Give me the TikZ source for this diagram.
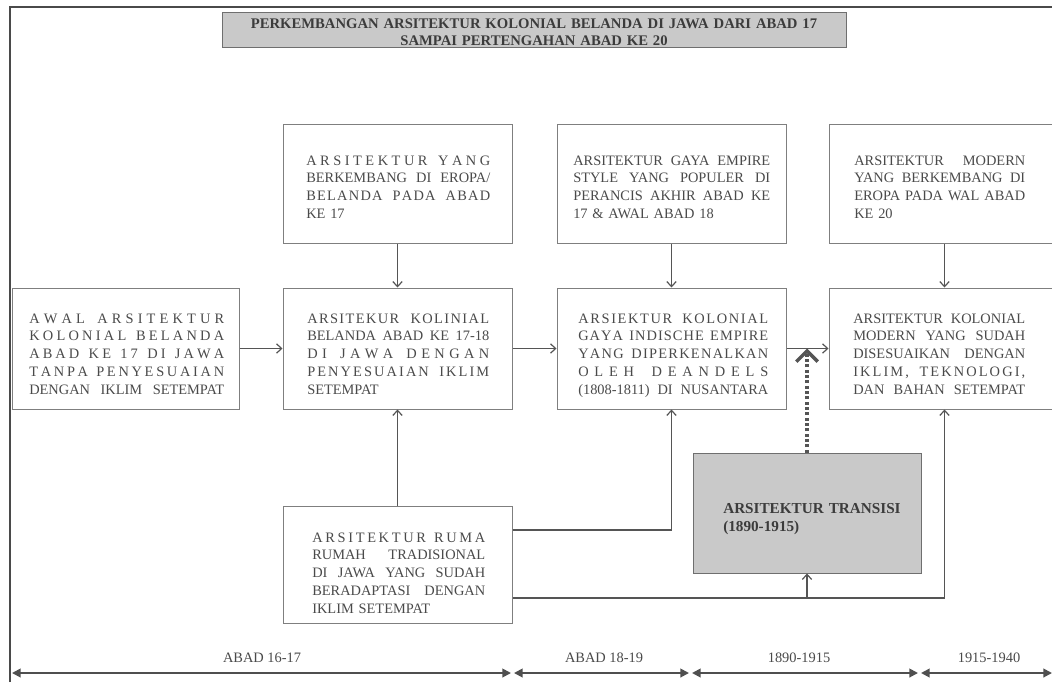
\documentclass[tikz,border=0pt]{standalone}
\usepackage{fontspec}
\setmainfont{Liberation Serif}
\usetikzlibrary{arrows.meta,fit,calc}
\definecolor{boxc}{HTML}{7F7F7F}
\definecolor{grayc}{HTML}{C9C9C9}
\definecolor{gboxc}{HTML}{6F6F6F}
\definecolor{txtc}{HTML}{4A4A4A}
\definecolor{titlec}{HTML}{3C3C3C}
\definecolor{linec}{HTML}{555555}
\definecolor{tlc}{HTML}{4F4F4F}
\definecolor{framec}{HTML}{4A4A4A}
\ExplSyntaxOn
\seq_new:N \l__rk_words_seq
\tl_new:N \l__rk_gap_tl
\NewDocumentCommand \spr { O{3} m }
  {
    \tl_set:Nn \l__rk_gap_tl {#1}
    \seq_set_split:Nnn \l__rk_words_seq { ~ } {#2}
    \noindent
    \hbox_to_wd:nn { \hsize }
      {
        \seq_map_indexed_inline:Nn \l__rk_words_seq
          {
            \int_compare:nNnT {##1} > {1}
              { \skip_horizontal:n { 0pt plus \l__rk_gap_tl fil } }
            \tl_map_inline:nn {##2} { ####1 \skip_horizontal:n { 0pt plus 1fil } }
            \unskip
          }
      }
  }
\NewDocumentCommand \jl { m }
  {
    \seq_set_split:Nnn \l__rk_words_seq { ~ } {#1}
    \noindent
    \hbox_to_wd:nn { \hsize }
      { \seq_use:Nn \l__rk_words_seq { \skip_horizontal:n { 0.25em plus 1fil } } }
  }
\ExplSyntaxOff
\begin{document}
\begin{tikzpicture}[x=0.75pt,y=-0.75pt,
  box/.style={draw=boxc,line width=0.75pt,fill=white,inner sep=0pt},
  graybox/.style={box,fill=grayc,draw=gboxc},
  txt/.style={inner sep=0pt,anchor=base west,text=txtc,font=\fontsize{10.8}{13.4}\selectfont},
  conn/.style={draw=linec,line width=0.9pt,-{Straight Barb[length=3.8pt,width=7pt,line width=0.9pt]}},
  dotconn/.style={draw=linec,line width=2.4pt,dash pattern=on 2.2pt off 1.8pt,-{Straight Barb[length=8pt,width=16pt,line width=2.6pt]}},
  tline/.style={draw=tlc,line width=1.4pt,{Triangle[length=6.5pt,width=6.5pt]}-{Triangle[length=6.5pt,width=6.5pt]}},
  tlab/.style={inner sep=0pt,anchor=base,text=txtc,font=\fontsize{10.8}{12}\selectfont},
  frameline/.style={draw=framec,line width=1.6pt}
]
\fill[white] (0,0) rectangle (1052,682);
\useasboundingbox (0,0) rectangle (1052,682);
\draw[frameline] (10,682) -- (10,7) -- (1052,7);

% boxes
\node[graybox,fit={(222,12) (846,47)}] (titlebox) {};
\node[inner sep=0pt,anchor=base,text width=460pt,align=center,text=titlec,font=\bfseries\fontsize{11}{12.4}\selectfont] (title) at (534,28.5)
  {PERKEMBANGAN ARSITEKTUR KOLONIAL BELANDA DI JAWA DARI ABAD 17\\SAMPAI PERTENGAHAN ABAD KE 20};
\node[box,fit={(283,124) (512,243)}] (b1) {};
\node[box,fit={(557,124) (786,243)}] (b2) {};
\node[box,fit={(829,124) (1060,243)}] (b3) {};
\node[box,fit={(12,288) (239,409)}] (a0) {};
\node[box,fit={(283,288) (512,409)}] (m1) {};
\node[box,fit={(557,288) (786,409)}] (m2) {};
\node[box,fit={(829,288) (1060,409)}] (m3) {};
\node[box,fit={(283,506) (512,623)}] (r) {};
\node[graybox,fit={(693,453) (921,573)}] (t) {};

% texts
\node[txt,text width=138pt] (b1t) at (306,165) {%
\spr{ARSITEKTUR YANG}\par
\jl{BERKEMBANG DI EROPA/}\par
\spr[8]{BELANDA PADA ABAD}\par
\noindent KE 17};
\node[txt,text width=147.75pt] (b2t) at (573,165) {%
\jl{ARSITEKTUR GAYA EMPIRE}\par
\jl{STYLE YANG POPULER DI}\par
\jl{PERANCIS AKHIR ABAD KE}\par
\noindent 17 \& AWAL ABAD 18};
\node[txt,text width=128.25pt] (b3t) at (854,165) {%
\jl{ARSITEKTUR MODERN}\par
\jl{YANG BERKEMBANG DI}\par
\jl{EROPA PADA WAL ABAD}\par
\noindent KE 20};
\node[txt,text width=146.25pt] (a0t) at (29,323) {%
\spr{AWAL ARSITEKTUR}\par
\spr{KOLONIAL BELANDA}\par
\spr{ABAD KE 17 DI JAWA}\par
\spr{TANPA PENYESUAIAN}\par
\jl{DENGAN IKLIM SETEMPAT}};
\node[txt,text width=136.5pt] (m1t) at (307,323) {%
\spr[8]{ARSITEKUR KOLINIAL}\par
\jl{BELANDA ABAD KE 17-18}\par
\spr{DI JAWA DENGAN}\par
\spr[5]{PENYESUAIAN IKLIM}\par
\noindent SETEMPAT};
\node[txt,text width=142.5pt] (m2t) at (578,323) {%
\spr[6]{ARSIEKTUR KOLONIAL}\par
\spr[6]{GAYA INDISCHE EMPIRE}\par
\spr[6]{YANG DIPERKENALKAN}\par
\spr{OLEH DEANDELS}\par
\jl{(1808-1811) DI NUSANTARA}};
\node[txt,text width=129pt] (m3t) at (853,323) {%
\jl{ARSITEKTUR KOLONIAL}\par
\jl{MODERN YANG SUDAH}\par
\jl{DISESUAIKAN DENGAN}\par
\spr[5]{IKLIM, TEKNOLOGI,}\par
\jl{DAN BAHAN SETEMPAT}};
\node[txt,text width=129.75pt] (rt) at (312,542) {%
\spr{ARSITEKTUR RUMA}\par
\jl{RUMAH TRADISIONAL}\par
\jl{DI JAWA YANG SUDAH}\par
\jl{BERADAPTASI DENGAN}\par
\noindent IKLIM SETEMPAT};
\node[txt,text width=150pt,text=titlec,font=\bfseries\fontsize{11.4}{13.8}\selectfont] (tt) at (723,513) {%
\noindent ARSITEKTUR TRANSISI\par
\noindent (1890-1915)};

% connectors
\draw[conn] (b1) -- (m1);
\draw[conn] (b2) -- (m2);
\draw[conn] (b3) -- (m3);
\draw[conn] (a0) -- (m1);
\draw[conn] (m1) -- (m2);
\draw[conn] (m2) -- (m3);
\draw[conn] (r) -- (m1);
\coordinate (ya) at (0,530);
\coordinate (yb) at (0,598);
\draw[conn] (r.east |- ya) -| (m2);
\draw[conn] (r.east |- yb) -| (m3);
\coordinate (jt) at (t.south |- yb);
\draw[conn] (jt) -- (t);
\coordinate (dtip) at (t.north |- m3.west);
\draw[dotconn] (t) -- (dtip);

% timeline
\coordinate (s0) at (12,673);
\coordinate (s1) at (511,673);
\coordinate (s2) at (514,673);
\coordinate (s3) at (689,673);
\coordinate (s4) at (692,673);
\coordinate (s5) at (918,673);
\coordinate (s6) at (921,673);
\coordinate (s7) at (1052,673);
\draw[tline] (s0) -- (s1);
\draw[tline] (s2) -- (s3);
\draw[tline] (s4) -- (s5);
\draw[tline] (s6) -- (s7);
\node[tlab] (l1) at (262,662) {ABAD 16-17};
\node[tlab] (l2) at (604,662) {ABAD 18-19};
\node[tlab] (l3) at (799,662) {1890-1915};
\node[tlab] (l4) at (989,662) {1915-1940};
\end{tikzpicture}
\end{document}
